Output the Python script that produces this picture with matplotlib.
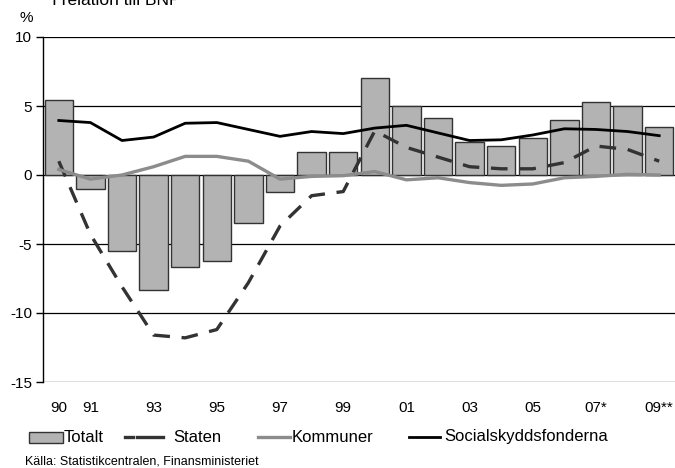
import numpy as np
import matplotlib
matplotlib.use("Agg")
import matplotlib.pyplot as plt
from matplotlib.patches import Rectangle
from matplotlib.lines import Line2D

plt.rcParams['font.family'] = ['Liberation Sans', 'DejaVu Sans']

years = list(range(1990, 2010))
totalt = [5.4, -1.0, -5.5, -8.3, -6.7, -6.2, -3.5, -1.2, 1.7, 1.7,
          7.0, 5.0, 4.1, 2.4, 2.1, 2.7, 4.0, 5.3, 5.0, 3.5]
staten = [1.0, -4.3, -8.1, -11.6, -11.8, -11.2, -7.8, -3.7, -1.5, -1.2,
          3.2, 2.0, 1.3, 0.6, 0.45, 0.45, 0.9, 2.1, 1.85, 1.0]
kommuner = [0.4, -0.3, 0.0, 0.6, 1.35, 1.35, 1.0, -0.3, -0.1, -0.05,
            0.25, -0.35, -0.2, -0.55, -0.75, -0.65, -0.2, -0.1, 0.05, 0.0]
socialskydd = [3.95, 3.8, 2.5, 2.75, 3.75, 3.8, 3.3, 2.8, 3.15, 3.0,
               3.4, 3.6, 3.05, 2.5, 2.55, 2.9, 3.35, 3.3, 3.15, 2.85]

tick_years = [1990, 1991, 1993, 1995, 1997, 1999, 2001, 2003, 2005, 2007, 2009]
tick_labels = ['90', '91', '93', '95', '97', '99', '01', '03', '05', '07*', '09**']

W, H = 675, 468
fig = plt.figure(figsize=(6.75, 4.68), dpi=100)
ax = fig.add_axes([43 / W, 1 - 382 / H, 632 / W, 345 / H])

bar_col = '#b3b3b3'
dark = '#333333'
grey = '#8c8c8c'
ax.bar(years, totalt, width=0.9, color=bar_col, edgecolor=dark, linewidth=1.0, zorder=2)
ax.plot(years, staten, color=dark, lw=2.4, dashes=(5, 3.5), zorder=3)
ax.plot(years, kommuner, color=grey, lw=2.4, zorder=3)
ax.plot(years, socialskydd, color='black', lw=2.0, zorder=4)

ax.set_xlim(1989.5, 2009.5)
ax.set_ylim(-15, 10)
ax.set_yticks([-15, -10, -5, 0, 5, 10])
ax.set_yticklabels(['-15', '-10', '-5', '0', '5', '10'])
ax.yaxis.grid(True, color='black', lw=0.9, zorder=0)
ax.set_axisbelow(True)
ax.set_xticks(tick_years)
ax.set_xticklabels(tick_labels)
ax.tick_params(axis='x', length=0, pad=14, labelsize=11)
ax.tick_params(axis='y', length=5, width=1, labelsize=11, pad=3)
for s in ['top', 'right', 'bottom']:
    ax.spines[s].set_visible(False)
ax.spines['left'].set_linewidth(1.0)

fig.text(20 / W, 1 - 18 / H, '%', fontsize=11, ha='left', va='center')
fig.text(52 / W, 1 - 5 / H, 'I relation till BNP', fontsize=12.5, ha='left', va='baseline')

# legend, laid out by hand like the original
ly = 1 - 437 / H
fig.add_artist(Rectangle((29 / W, 1 - 443 / H), 34 / W, 11 / H, transform=fig.transFigure,
                         facecolor=bar_col, edgecolor=dark, lw=1.0))
fig.add_artist(Line2D([125 / W, 133 / W], [ly, ly], transform=fig.transFigure, color=dark, lw=2.4))
fig.add_artist(Line2D([137 / W, 163 / W], [ly, ly], transform=fig.transFigure, color=dark, lw=2.4))
fig.add_artist(Line2D([258 / W, 290 / W], [ly, ly], transform=fig.transFigure, color=grey, lw=2.4))
fig.add_artist(Line2D([409 / W, 440 / W], [ly, ly], transform=fig.transFigure, color='black', lw=2.0))
for x, lab in zip([64, 173, 292, 444], ['Totalt', 'Staten', 'Kommuner', 'Socialskyddsfonderna']):
    fig.text(x / W, ly, lab, fontsize=12, ha='left', va='center')

fig.text(25 / W, 1 - 462 / H, 'Källa: Statistikcentralen, Finansministeriet',
         fontsize=9, ha='left', va='center')

fig.savefig('out.png', dpi=100)
